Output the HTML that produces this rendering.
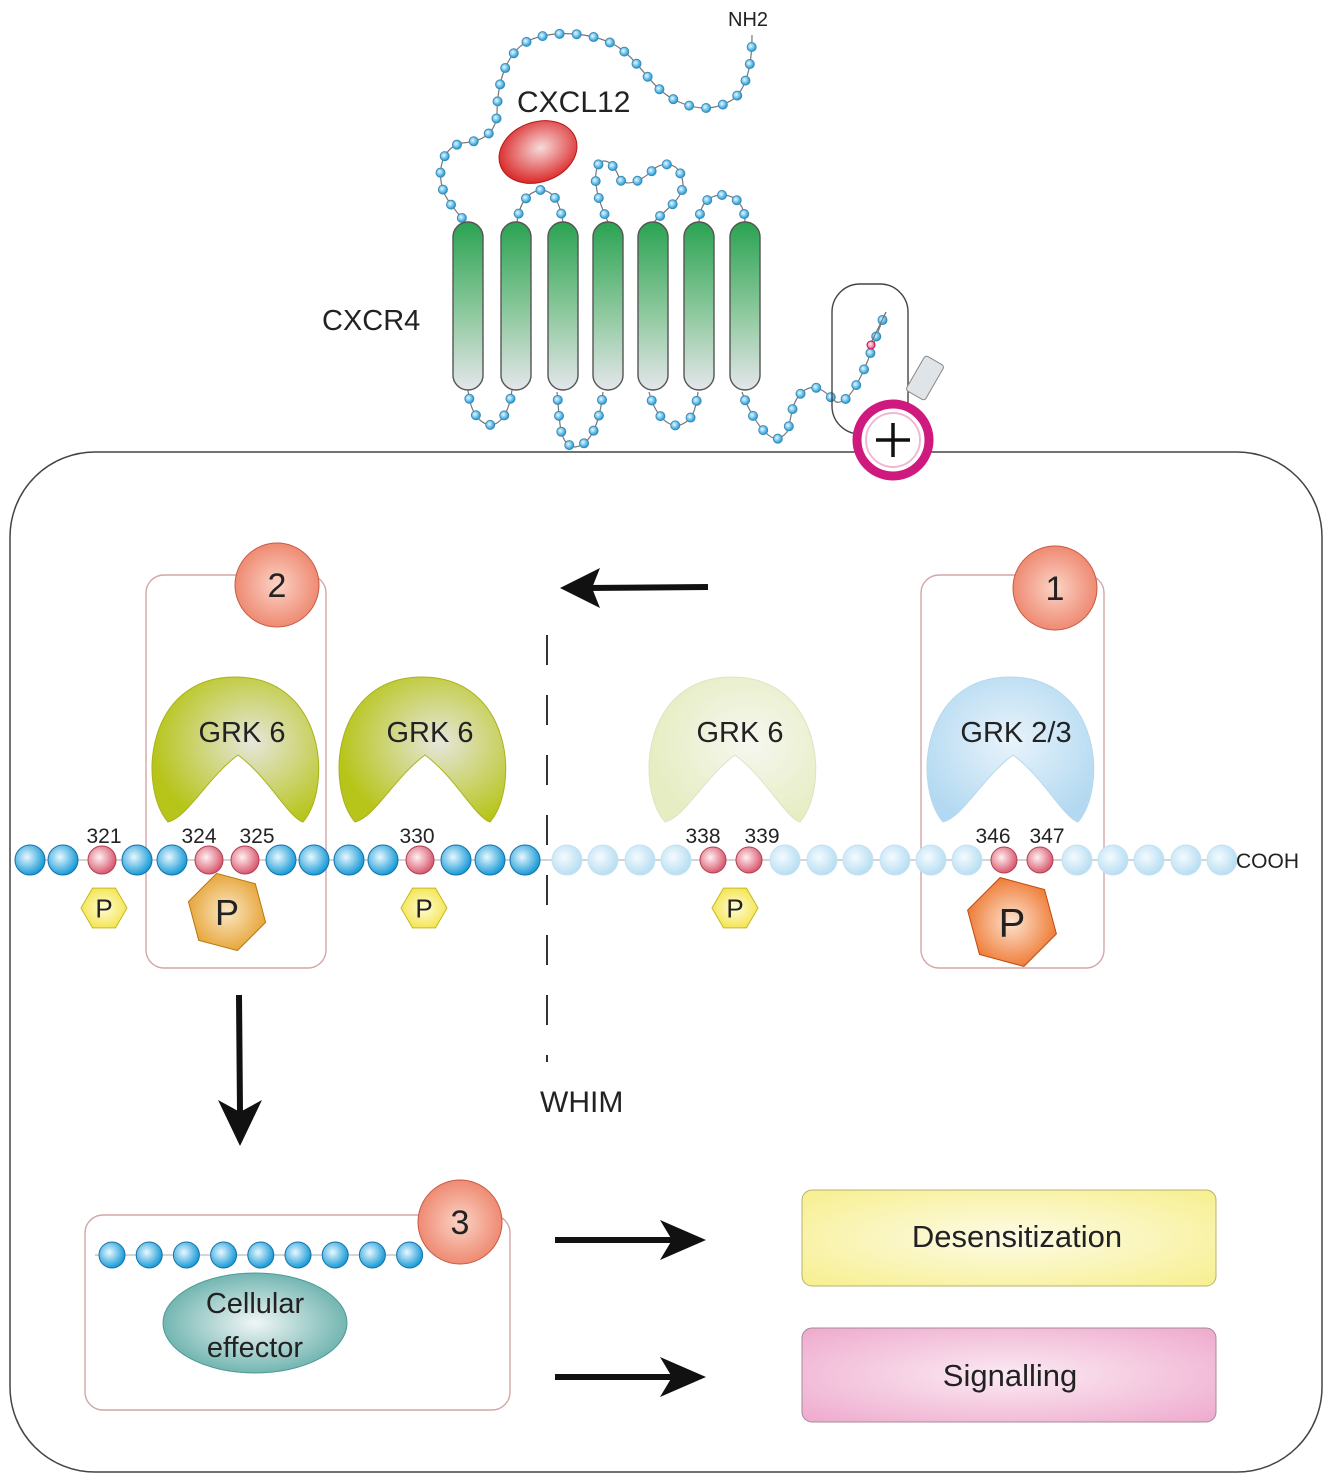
<!DOCTYPE html>
<html><head><meta charset="utf-8"><style>
body{margin:0;background:#fff}
svg{display:block}
text{font-family:"Liberation Sans",sans-serif;fill:#222}
</style></head><body>
<svg id="s" width="1330" height="1484" viewBox="0 0 1330 1484" xmlns="http://www.w3.org/2000/svg">
<defs>
<linearGradient id="hel" x1="0" y1="0" x2="0" y2="1"><stop offset="0" stop-color="#2aa352"/><stop offset="0.55" stop-color="#8fc99f"/><stop offset="1" stop-color="#e4e6ea"/></linearGradient>
<radialGradient id="bb" cx="0.4" cy="0.4" r="0.6"><stop offset="0" stop-color="#e8f8ff"/><stop offset="1" stop-color="#1a9bd7"/></radialGradient>
<radialGradient id="bf" cx="0.4" cy="0.4" r="0.6"><stop offset="0" stop-color="#f4fbff"/><stop offset="1" stop-color="#b8def2"/></radialGradient>
<radialGradient id="bp" cx="0.4" cy="0.4" r="0.6"><stop offset="0" stop-color="#fff0f2"/><stop offset="1" stop-color="#d85a70"/></radialGradient>
<radialGradient id="red" cx="0.55" cy="0.45" r="0.6"><stop offset="0" stop-color="#f7dada"/><stop offset="1" stop-color="#d91e1e"/></radialGradient>
<radialGradient id="sal" cx="0.5" cy="0.5" r="0.6"><stop offset="0" stop-color="#fbd3c6"/><stop offset="1" stop-color="#ec7c62"/></radialGradient>
<radialGradient id="gy" cx="0.6" cy="0.45" r="0.6"><stop offset="0" stop-color="#e6e6dc"/><stop offset="1" stop-color="#b7c51a"/></radialGradient>
<radialGradient id="gyf" cx="0.6" cy="0.45" r="0.6"><stop offset="0" stop-color="#f7f7f0"/><stop offset="1" stop-color="#e6edc2"/></radialGradient>
<radialGradient id="gb" cx="0.5" cy="0.45" r="0.6"><stop offset="0" stop-color="#e8f3fb"/><stop offset="1" stop-color="#b2d9f1"/></radialGradient>
<radialGradient id="hy" cx="0.5" cy="0.5" r="0.6"><stop offset="0" stop-color="#fffbd6"/><stop offset="1" stop-color="#f2e240"/></radialGradient>
<radialGradient id="ho" cx="0.5" cy="0.5" r="0.6"><stop offset="0" stop-color="#fbe7c4"/><stop offset="1" stop-color="#e39a22"/></radialGradient>
<radialGradient id="hr" cx="0.5" cy="0.5" r="0.6"><stop offset="0" stop-color="#fde3d0"/><stop offset="1" stop-color="#ec6a1c"/></radialGradient>
<radialGradient id="teal" cx="0.5" cy="0.5" r="0.6"><stop offset="0" stop-color="#f0f6f5"/><stop offset="1" stop-color="#5aa9a4"/></radialGradient>
<radialGradient id="yel" cx="0.5" cy="0.5" r="0.7"><stop offset="0" stop-color="#fdfbe6"/><stop offset="1" stop-color="#f7ef8e"/></radialGradient>
<radialGradient id="pnk" cx="0.5" cy="0.5" r="0.7"><stop offset="0" stop-color="#fbeaf3"/><stop offset="1" stop-color="#eeaacd"/></radialGradient>
<path id="grk" d="M15,145 C-15,110 -8,0 82,0 C172,0 180,110 150,145 C135,140 115,100 85,78 C55,100 35,140 15,145Z"/>
</defs>

<rect x="10" y="452" width="1312" height="1020" rx="85" fill="none" stroke="#444" stroke-width="1.5"/>

<g id="loops" fill="none" stroke="#777" stroke-width="1.2">
<path d="M752,35 C752,60 748,85 735,98 C715,112 695,110 675,100 C650,88 640,60 615,45 C590,32 555,30 530,40 C505,52 497,85 497,115 C495,135 480,142 462,143 C440,148 436,175 445,195 C452,208 460,215 465,222"/>
<path d="M517,222 C520,200 530,192 540,190 C555,190 560,205 563,222"/>
<path d="M608,222 C598,200 592,180 598,165 C605,155 615,165 620,180 C630,188 645,178 655,168 C668,160 682,165 683,185 C682,200 665,210 654,222"/>
<path d="M699,222 C700,200 712,195 722,195 C738,195 745,208 745,222"/>
<path d="M468,390 C470,412 480,425 492,425 C505,422 510,405 512,390"/>
<path d="M557,392 C560,420 558,445 575,447 C592,445 600,420 603,392"/>
<path d="M649,392 C655,415 668,428 680,425 C695,420 696,405 698,392"/>
<path d="M742,392 C748,410 758,425 765,432 C775,442 780,440 787,432 C792,420 790,400 805,390 C818,382 828,395 836,402 C848,405 860,380 868,360 C875,340 880,325 886,312"/>
</g>
<g id="beadsTop"></g>
<text x="728" y="26" font-size="20">NH2</text>
<text x="517" y="112" font-size="30">CXCL12</text>
<ellipse cx="538" cy="152" rx="40" ry="30" transform="rotate(-20 538 152)" fill="url(#red)" stroke="#b01818" stroke-width="1"/>
<text x="322" y="330" font-size="29">CXCR4</text>

<g fill="url(#hel)" stroke="#555" stroke-width="1.4">
<rect x="453" y="222" width="30" height="168" rx="15"/>
<rect x="501" y="222" width="30" height="168" rx="15"/>
<rect x="548" y="222" width="30" height="168" rx="15"/>
<rect x="593" y="222" width="30" height="168" rx="15"/>
<rect x="638" y="222" width="30" height="168" rx="15"/>
<rect x="684" y="222" width="30" height="168" rx="15"/>
<rect x="730" y="222" width="30" height="168" rx="15"/>
</g>

<rect x="832" y="284" width="76" height="150" rx="28" fill="none" stroke="#444" stroke-width="1.4"/>
<line x1="886" y1="312" x2="870" y2="345" stroke="#777" stroke-width="1.2"/>
<circle cx="871" cy="345" r="4" fill="url(#bp)" stroke="#c05"/>
<rect x="914" y="358" width="22" height="40" rx="3" transform="rotate(30 925 378)" fill="#dfe4e8" stroke="#888"/>
<circle cx="893" cy="440" r="36" fill="#fff" stroke="#d0197e" stroke-width="9"/>
<circle cx="893" cy="440" r="27" fill="#fff" stroke="#f1b8d6" stroke-width="2"/>
<path d="M893,423 V457 M876,440 H910" stroke="#111" stroke-width="3.5"/>

<rect x="146" y="575" width="180" height="393" rx="18" fill="none" stroke="#d4a6a6" stroke-width="1.4"/>
<rect x="921" y="575" width="183" height="393" rx="18" fill="none" stroke="#d4a6a6" stroke-width="1.4"/>
<circle cx="277" cy="585" r="42" fill="url(#sal)" stroke="#c85a44"/>
<text x="277" y="597" font-size="34" text-anchor="middle">2</text>
<circle cx="1055" cy="588" r="42" fill="url(#sal)" stroke="#c85a44"/>
<text x="1055" y="600" font-size="34" text-anchor="middle">1</text>

<path d="M708,587 L585,588" stroke="#111" stroke-width="6"/>
<path d="M560,588 L600,568 L592,588 L600,608Z" fill="#111"/>

<path d="M547,635 V1062" stroke="#333" stroke-width="2" stroke-dasharray="30,30"/>
<text x="540" y="1112" font-size="30">WHIM</text>

<use href="#grk" x="153" y="677" fill="url(#gy)" stroke="#a9b21a"/>
<use href="#grk" x="340" y="677" fill="url(#gy)" stroke="#a9b21a"/>
<use href="#grk" x="650" y="677" fill="url(#gyf)" stroke="#dfe3c0"/>
<use href="#grk" x="928" y="677" fill="url(#gb)" stroke="#b6d8ee"/>
<g font-size="29">
<text x="242" y="742" text-anchor="middle">GRK 6</text>
<text x="430" y="742" text-anchor="middle">GRK 6</text>
<text x="740" y="742" text-anchor="middle">GRK 6</text>
<text x="1016" y="742" text-anchor="middle">GRK 2/3</text>
</g>

<line x1="15" y1="860" x2="1235" y2="860" stroke="#aaa" stroke-width="1"/>
<g id="chain"></g>
<g font-size="21" text-anchor="middle">
<text x="104" y="843">321</text><text x="199" y="843">324</text><text x="257" y="843">325</text>
<text x="417" y="843">330</text><text x="703" y="843">338</text><text x="762" y="843">339</text>
<text x="993" y="843">346</text><text x="1047" y="843">347</text>
</g>
<text x="1236" y="868" font-size="21">COOH</text>

<g id="phos"></g>

<path d="M239,995 L240,1112" stroke="#111" stroke-width="6"/>
<path d="M240,1146 L218,1100 L240,1112 L262,1100Z" fill="#111"/>

<rect x="85" y="1215" width="425" height="195" rx="18" fill="none" stroke="#d4a6a6" stroke-width="1.4"/>
<line x1="95" y1="1255" x2="420" y2="1255" stroke="#aaa"/>
<g id="chain3"></g>
<circle cx="460" cy="1222" r="42" fill="url(#sal)" stroke="#c85a44"/>
<text x="460" y="1234" font-size="34" text-anchor="middle">3</text>
<ellipse cx="255" cy="1323" rx="92" ry="50" fill="url(#teal)" stroke="#4e9a95"/>
<text x="255" y="1313" font-size="29" text-anchor="middle">Cellular</text>
<text x="255" y="1357" font-size="29" text-anchor="middle">effector</text>

<path d="M555,1240 L672,1240" stroke="#111" stroke-width="6"/>
<path d="M706,1240 L660,1220 L672,1240 L660,1260Z" fill="#111"/>
<path d="M555,1377 L672,1377" stroke="#111" stroke-width="6"/>
<path d="M706,1377 L660,1357 L672,1377 L660,1397Z" fill="#111"/>

<rect x="802" y="1190" width="414" height="96" rx="10" fill="url(#yel)" stroke="#b8b070"/>
<text x="1017" y="1247" font-size="31" text-anchor="middle">Desensitization</text>
<rect x="802" y="1328" width="414" height="94" rx="10" fill="url(#pnk)" stroke="#a88898"/>
<text x="1010" y="1386" font-size="31" text-anchor="middle">Signalling</text>
</svg>
<script>
var NS="http://www.w3.org/2000/svg";
function c(g,x,y,r,f,s){var e=document.createElementNS(NS,"circle");e.setAttribute("cx",x);e.setAttribute("cy",y);e.setAttribute("r",r);e.setAttribute("fill",f);e.setAttribute("stroke",s);e.setAttribute("stroke-width","1");g.appendChild(e);}
var bt=document.getElementById("beadsTop");
document.querySelectorAll("#loops path").forEach(function(p,i){var L=p.getTotalLength();var n=Math.max(3,Math.round(L/17));for(var k=1;k<=n;k++){var t=(i==0?k-0.3:k-0.5)/n*L;var pt=p.getPointAtLength(t);c(bt,pt.x,pt.y,4.5,"url(#bb)","#3a8ab8");}});
var ch=document.getElementById("chain");
var dark=[30,63,102,137,172,209,245,281,314,349,383,420,456,490,525];
var pinkD=[102,209,245,420];
dark.forEach(function(x){var p=pinkD.indexOf(x)>=0;c(ch,x,860,p?14:15,p?"url(#bp)":"url(#bb)",p?"#b04050":"#1570a8");});
var pinkF=[712,749,1004,1040];
for(var k=0;k<19;k++){var x=567+k*36.4;x=Math.round(x);var p=pinkF.some(function(v){return Math.abs(v-x)<4});c(ch,x,860,p?13:15,p?"url(#bp)":"url(#bf)",p?"#b04050":"#c6e2f2");}
var c3=document.getElementById("chain3");
for(var k=0;k<9;k++){c(c3,112+k*37.2,1255,13,"url(#bb)","#1570a8");}
var ph=document.getElementById("phos");
function hex(x,y,r,f,s,rot,fs){var pts=[];for(var k=0;k<6;k++){var a=(k*60+rot)*Math.PI/180;pts.push((x+r*Math.cos(a)).toFixed(1)+","+(y+r*Math.sin(a)).toFixed(1));}
var e=document.createElementNS(NS,"polygon");e.setAttribute("points",pts.join(" "));e.setAttribute("fill",f);e.setAttribute("stroke",s);ph.appendChild(e);
var t=document.createElementNS(NS,"text");t.setAttribute("x",x);t.setAttribute("y",y+fs*0.36);t.setAttribute("font-size",fs);t.setAttribute("text-anchor","middle");t.textContent="P";ph.appendChild(t);}
hex(104,908,23,"url(#hy)","#c8b820",0,26);
hex(227,912,40,"url(#ho)","#b87810",15,36);
hex(424,908,23,"url(#hy)","#c8b820",0,26);
hex(735,908,23,"url(#hy)","#c8b820",0,26);
hex(1012,922,46,"url(#hr)","#c04a10",15,40);
</script>
</body></html>
